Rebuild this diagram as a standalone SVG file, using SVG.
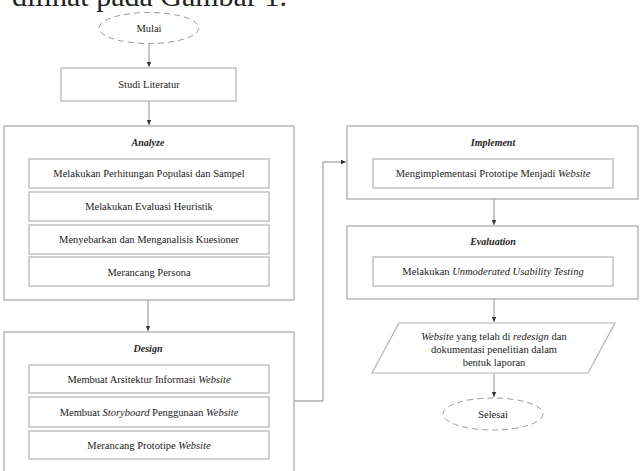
<svg xmlns="http://www.w3.org/2000/svg" width="641" height="471" viewBox="0 0 641 471">
<defs>
<style>
text{font-family:"Liberation Serif","Times New Roman",serif;fill:#222;}
.t{font-size:10.5px;text-anchor:middle;}
.h{font-size:10px;text-anchor:middle;font-style:italic;font-weight:bold;}
.i{font-style:italic;}
.outer{fill:#fff;stroke:#a6a6a6;stroke-width:1.2;}
.inner{fill:#fff;stroke:#b3b3b3;stroke-width:1.2;}
.term{fill:#fff;stroke:#9a9a9a;stroke-width:1;stroke-dasharray:6 4;}
.con{fill:none;stroke:#8c8c8c;stroke-width:1;}
</style>
<marker id="ah" markerWidth="6" markerHeight="6" refX="5" refY="3" orient="auto" markerUnits="userSpaceOnUse">
<path d="M0,0.8 L5,3 L0,5.2 Z" fill="#333"/>
</marker>
</defs>
<rect width="641" height="471" fill="#fff"/>
<text x="12" y="6" style="font-size:30px">dilihat pada Gambar 1.</text>

<g id="connectors">
<line class="con" x1="149" y1="44" x2="149" y2="67" marker-end="url(#ah)"/>
<line class="con" x1="149" y1="101" x2="149" y2="125" marker-end="url(#ah)"/>
<line class="con" x1="148" y1="300" x2="148" y2="331" marker-end="url(#ah)"/>
<polyline class="con" points="294,401 323,401 323,162 346,162" marker-end="url(#ah)"/>
<line class="con" x1="494" y1="199" x2="494" y2="225" marker-end="url(#ah)"/>
<line class="con" x1="494" y1="299" x2="494" y2="322" marker-end="url(#ah)"/>
<line class="con" x1="494" y1="373" x2="494" y2="397" marker-end="url(#ah)"/>
</g>

<g id="mulai">
<ellipse class="term" cx="149" cy="28" rx="50" ry="15.5"/>
<text class="t" x="149" y="31.5">Mulai</text>
</g>

<g id="studi-literatur">
<rect class="inner" x="61" y="68" width="175" height="33"/>
<text class="t" x="149" y="88">Studi Literatur</text>
</g>

<g id="analyze">
<rect class="outer" x="4" y="126" width="290" height="174"/>
<text class="h" x="148" y="146">Analyze</text>
<rect class="inner" x="29" y="159" width="240" height="29"/>
<text class="t" x="149" y="177">Melakukan Perhitungan Populasi dan Sampel</text>
<rect class="inner" x="29" y="192" width="240" height="29"/>
<text class="t" x="149" y="210">Melakukan Evaluasi Heuristik</text>
<rect class="inner" x="29" y="225" width="240" height="29"/>
<text class="t" x="149" y="243">Menyebarkan dan Menganalisis Kuesioner</text>
<rect class="inner" x="29" y="257" width="240" height="29"/>
<text class="t" x="149" y="276">Merancang Persona</text>
</g>

<g id="design">
<rect class="outer" x="4" y="332" width="290" height="150"/>
<text class="h" x="148" y="352">Design</text>
<rect class="inner" x="29" y="365" width="240" height="28"/>
<text class="t" x="149" y="383">Membuat Arsitektur Informasi <tspan class="i">Website</tspan></text>
<rect class="inner" x="29" y="397" width="240" height="30"/>
<text class="t" x="149" y="416">Membuat <tspan class="i">Storyboard</tspan> Penggunaan <tspan class="i">Website</tspan></text>
<rect class="inner" x="29" y="431" width="240" height="28"/>
<text class="t" x="149" y="449">Merancang Prototipe <tspan class="i">Website</tspan></text>
</g>

<g id="implement">
<rect class="outer" x="347" y="126" width="291" height="73"/>
<text class="h" x="493" y="146">Implement</text>
<rect class="inner" x="373" y="159" width="240" height="29"/>
<text class="t" x="493" y="177">Mengimplementasi Prototipe Menjadi <tspan class="i">Website</tspan></text>
</g>

<g id="evaluation">
<rect class="outer" x="347" y="226" width="291" height="73"/>
<text class="h" x="493" y="245">Evaluation</text>
<rect class="inner" x="373" y="257" width="240" height="29"/>
<text class="t" x="493" y="275">Melakukan <tspan class="i">Unmoderated Usability Testing</tspan></text>
</g>

<g id="output">
<polygon class="inner" points="399,323 615,323 588,373 372,373"/>
<text class="t" x="494" y="340"><tspan class="i">Website</tspan> yang telah di <tspan class="i">redesign</tspan> dan</text>
<text class="t" x="494" y="353">dokumentasi penelitian dalam</text>
<text class="t" x="494" y="366">bentuk laporan</text>
</g>

<g id="selesai">
<ellipse class="term" cx="493" cy="414" rx="50" ry="16"/>
<text class="t" x="493" y="418">Selesai</text>
</g>
</svg>
